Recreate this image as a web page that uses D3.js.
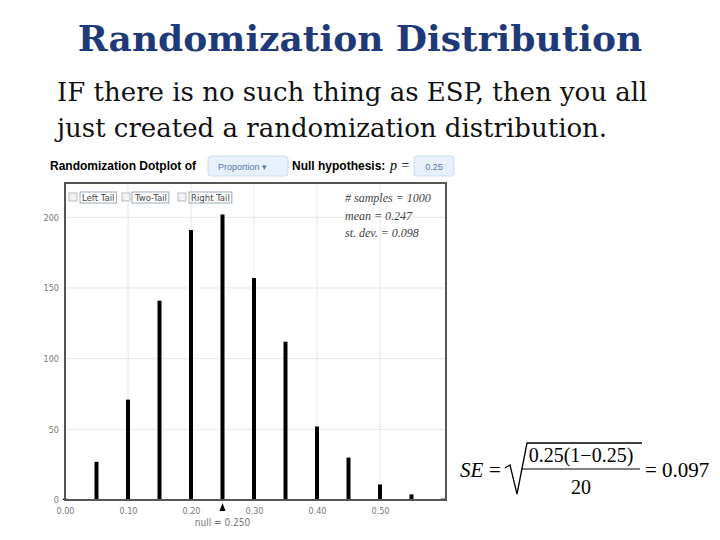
<!DOCTYPE html>
<html>
<head>
<meta charset="utf-8">
<script src="https://cdn.jsdelivr.net/npm/d3@7"></script>
<style>
  body { margin: 0; background: #fff; }
  svg text { font-family: "Liberation Sans", Arial, sans-serif; }
  svg text.serif { font-family: "Liberation Serif", "Times New Roman", serif; }
</style>
</head>
<body>
<div id="chart"></div>
<script>
// dotplot counts
var proportions = [0.00, 0.05, 0.10, 0.15, 0.20, 0.25, 0.30, 0.35, 0.40, 0.45, 0.50, 0.55, 0.60];
var counts = [1, 27, 71, 141, 191, 202, 157, 112, 52, 30, 11, 4, 1];
var xTicks = [0.00, 0.10, 0.20, 0.30, 0.40, 0.50];
var yTicks = [0, 50, 100, 150, 200];
var statLines = ["# samples = 1000", "mean = 0.247", "st. dev. = 0.098"];
var tailLabels = ["Left Tail", "Two-Tail", "Right Tail"];
var nullValue = 0.25;

var width = 720, height = 540;
var svg = d3.select("#chart").append("svg")
  .attr("width", width)
  .attr("height", height);

// slide title and text
svg.append("text")
  .attr("x", 360).attr("y", 51)
  .attr("text-anchor", "middle")
  .style("font-family", "'DejaVu Serif', serif")
  .style("font-weight", "bold")
  .style("font-size", "36px")
  .style("fill", "#1f3a78")
  .text("Randomization Distribution");

svg.append("text")
  .attr("x", 57).attr("y", 101)
  .style("font-family", "'DejaVu Serif', serif")
  .style("font-size", "26px")
  .style("fill", "#111")
  .text("IF there is no such thing as ESP, then you all");
svg.append("text")
  .attr("x", 57).attr("y", 137)
  .style("font-family", "'DejaVu Serif', serif")
  .style("font-size", "26px")
  .style("fill", "#111")
  .text("just created a randomization distribution.");

// header line of the applet
svg.append("text")
  .attr("x", 50).attr("y", 170)
  .style("font-weight", "bold").style("font-size", "12px")
  .text("Randomization Dotplot of");
svg.append("rect")
  .attr("x", 208).attr("y", 156).attr("width", 80).attr("height", 20).attr("rx", 3)
  .attr("fill", "#e8f1fb").attr("stroke", "#c9dcee");
svg.append("text")
  .attr("x", 218).attr("y", 170)
  .style("font-size", "9px").style("fill", "#5877a8")
  .text("Proportion  \u25BE");
svg.append("text")
  .attr("x", 292).attr("y", 170)
  .style("font-weight", "bold").style("font-size", "12px")
  .text("Null hypothesis:");
svg.append("text")
  .attr("class", "serif")
  .attr("x", 390).attr("y", 170)
  .style("font-style", "italic").style("font-size", "14px")
  .text("p =");
svg.append("rect")
  .attr("x", 414).attr("y", 156).attr("width", 40).attr("height", 20).attr("rx", 3)
  .attr("fill", "#e8f1fb").attr("stroke", "#c9dcee");
svg.append("text")
  .attr("x", 434).attr("y", 170).attr("text-anchor", "middle")
  .style("font-size", "9px").style("fill", "#5877a8")
  .text("0.25");

// plot area
var margin = { top: 183, right: 274, bottom: 40, left: 65 };
var plotW = width - margin.left - margin.right;   // 381
var plotH = height - margin.top - margin.bottom;  // 317

var x = d3.scaleLinear().domain([0, 0.6]).range([0, 378]);
var y = d3.scaleLinear().domain([0, 200]).range([plotH, plotH - 282.7]);

var g = svg.append("g")
  .attr("transform", "translate(" + margin.left + "," + margin.top + ")");

// grid lines
g.selectAll(".hgrid").data(yTicks.slice(1)).enter().append("line")
  .attr("x1", 0).attr("x2", plotW)
  .attr("y1", function(d) { return y(d); }).attr("y2", function(d) { return y(d); })
  .attr("stroke", "#e6e6e6");
g.selectAll(".vgrid").data(xTicks.slice(1)).enter().append("line")
  .attr("x1", function(d) { return x(d); }).attr("x2", function(d) { return x(d); })
  .attr("y1", 0).attr("y2", plotH)
  .attr("stroke", "#e6e6e6");

// bars (stacked dots)
g.selectAll(".bar").data(proportions).enter().append("rect")
  .attr("x", function(d) { return x(d) - 2; })
  .attr("width", 4)
  .attr("y", function(d, i) { return y(counts[i]); })
  .attr("height", function(d, i) { return y(0) - y(counts[i]); })
  .attr("fill", "#000");

// frame
g.append("rect")
  .attr("x", 0).attr("y", 0).attr("width", plotW).attr("height", plotH)
  .attr("fill", "none").attr("stroke", "#555").attr("stroke-width", 2);

// axes
var xAxis = g.append("g")
  .attr("transform", "translate(0," + plotH + ")")
  .call(d3.axisBottom(x).tickValues(xTicks).tickFormat(d3.format(".2f")).tickSize(0).tickPadding(8));
var yAxis = g.append("g")
  .call(d3.axisLeft(y).tickValues(yTicks).tickSize(0).tickPadding(6));
[xAxis, yAxis].forEach(function(a) {
  a.select(".domain").remove();
  a.selectAll("text").style("font-size", "9px").style("fill", "#777")
    .style("font-family", "'DejaVu Sans Condensed', sans-serif");
});

// null marker
var nx = x(nullValue);
g.append("path")
  .attr("d", "M" + nx + "," + (plotH + 3) + "L" + (nx - 3) + "," + (plotH + 11) + "L" + (nx + 3) + "," + (plotH + 11) + "Z")
  .attr("fill", "#000");
g.append("text")
  .attr("x", nx).attr("y", plotH + 26).attr("text-anchor", "middle")
  .style("font-size", "10px").style("fill", "#777")
  .style("font-family", "'DejaVu Sans Condensed', sans-serif")
  .text("null = " + d3.format(".3f")(nullValue));

// tail checkboxes
var tx = [4, 57, 113];
tailLabels.forEach(function(t, i) {
  g.append("rect")
    .attr("x", tx[i]).attr("y", 10).attr("width", 8).attr("height", 8)
    .attr("fill", "#f2f2f2").attr("stroke", "#bbb");
  var lbl = g.append("text")
    .attr("x", tx[i] + 13).attr("y", 18)
    .style("font-size", "9.5px").style("fill", "#444")
    .style("font-family", "'DejaVu Sans Condensed', sans-serif")
    .text(t);
  var bb = lbl.node().getBBox();
  g.append("rect")
    .attr("x", bb.x - 2).attr("y", 9).attr("width", bb.width + 4).attr("height", 11)
    .attr("fill", "none").attr("stroke", "#9ab");
});

// summary stats
g.selectAll(".stat").data(statLines).enter().append("text")
  .attr("class", "serif")
  .attr("x", 280).attr("y", function(d, i) { return 19 + i * 17.5; })
  .style("font-style", "italic").style("font-size", "12px").style("fill", "#444")
  .text(function(d) { return d; });

// standard error formula
var f = svg.append("g");
f.append("text").attr("class", "serif").attr("x", 460).attr("y", 477).style("font-style", "italic").style("font-size", "21px").text("SE");
f.append("text").attr("class", "serif").attr("x", 489).attr("y", 477).style("font-size", "21px").text("=");
f.append("path")
  .attr("d", "M505,468 L510,465 L517,494 L527,443 L642,443")
  .attr("fill", "none").attr("stroke", "#000").attr("stroke-width", 1.3);
f.append("text").attr("class", "serif").attr("x", 581).attr("y", 462).attr("text-anchor", "middle").style("font-size", "20px").text("0.25(1\u22120.25)");
f.append("line").attr("x1", 522).attr("x2", 640).attr("y1", 469).attr("y2", 469).attr("stroke", "#000").attr("stroke-width", 1.2);
f.append("text").attr("class", "serif").attr("x", 581).attr("y", 494).attr("text-anchor", "middle").style("font-size", "20px").text("20");
f.append("text").attr("class", "serif").attr("x", 645).attr("y", 477).style("font-size", "21px").text("= 0.097");
</script>
</body>
</html>
